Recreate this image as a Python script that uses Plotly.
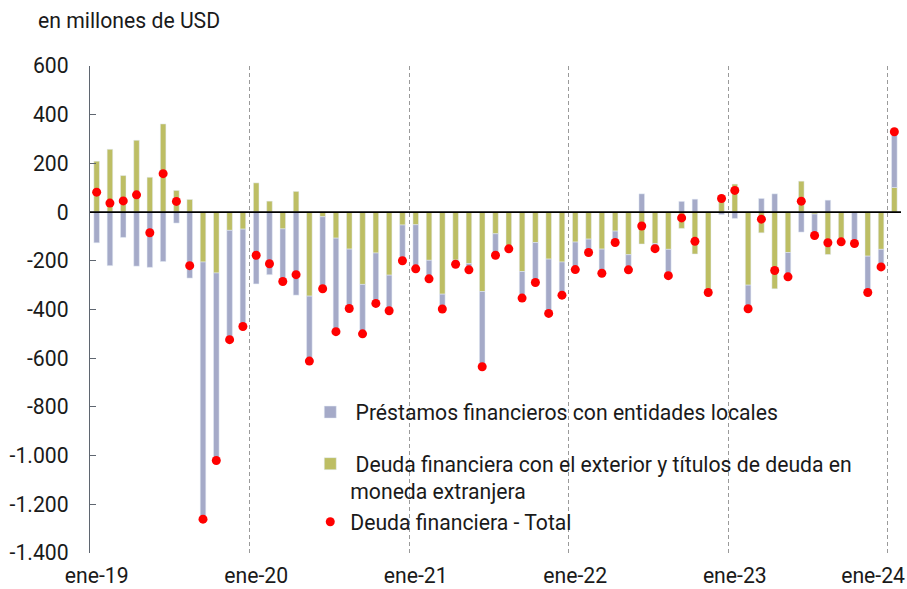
import plotly.graph_objects as go

# ---------------- data (millones de USD), monthly ene-19 .. ene-24 ----------------
month_abbr = ["ene", "feb", "mar", "abr", "may", "jun",
              "jul", "ago", "sep", "oct", "nov", "dic"]
years = ["19", "20", "21", "22", "23", "24"]
months = [f"{m}-{y}" for y in years for m in month_abbr][:61]

prestamos_locales = [
    -126, -220, -104, -222, -227, -203, -45, -271, -1056, -770, -449, -400,
    -295, -257, -216, -341, -267, -296, -384, -244, -203, -207, -146, -147,
    -181, -76, -61, -16, -26, -309, -88, -11, -109, -164, -223, -136,
    -113, -55, -99, -47, -62, 75, -21, -108, 44, 53, 0, -10,
    -26, -97, 56, 75, -100, -82, -88, 49, -2, -129, -149, -72,
    229,
]
deuda_exterior = [
    209, 258, 150, 295, 143, 362, 89, 52, -205, -250, -75, -70,
    120, 45, -69, 85, -345, -19, -107, -152, -297, -168, -259, -53,
    -52, -198, -337, -197, -211, -326, -89, -140, -244, -125, -193, -205,
    -123, -111, -152, -78, -175, -131, -129, -153, -67, -172, -330, 66,
    115, -300, -85, -315, -166, 127, -8, -174, -120, 0, -181, -153,
    101,
]
deuda_total = [
    82, 37, 46, 71, -85, 158, 44, -220, -1261, -1020, -524, -470,
    -177, -212, -285, -257, -612, -315, -491, -396, -500, -375, -405, -200,
    -233, -274, -398, -214, -237, -635, -177, -151, -353, -289, -416, -341,
    -236, -166, -251, -125, -237, -57, -150, -261, -24, -120, -330, 56,
    89, -397, -29, -240, -266, 45, -96, -126, -122, -129, -330, -225,
    330,
]

y_tick_values = [600, 400, 200, 0, -200, -400, -600, -800, -1000, -1200, -1400]
y_tick_labels = ["600", "400", "200", "0", "-200", "-400", "-600", "-800",
                 "-1.000", "-1.200", "-1.400"]
x_tick_labels = ["ene-19", "ene-20", "ene-21", "ene-22", "ene-23", "ene-24"]

name_prest = "\u00a0Préstamos financieros con entidades locales"
name_deuda = ("\u00a0Deuda financiera con el exterior y títulos de deuda en<br>"
              "moneda extranjera")
name_total = "Deuda financiera - Total"

# ---------------- figure ----------------
x = list(range(len(months)))
FONT = "Roboto"
FS = 21.2
TXT = "#1a1a1a"
BLUE = "#a5aac8"
OLIVE = "#bdbe64"

fig = go.Figure()
fig.add_trace(go.Bar(
    x=x, y=deuda_exterior, name=name_deuda, marker_color=OLIVE,
    width=0.42, legendgroup="b", legendrank=2, customdata=months,
))
fig.add_trace(go.Bar(
    x=x, y=prestamos_locales, name=name_prest, marker_color=BLUE,
    width=0.42, legendgroup="a", legendrank=1, customdata=months,
))
fig.add_trace(go.Scatter(
    x=x, y=deuda_total, name=name_total, mode="markers",
    marker=dict(color="#ff0000", size=9), legendgroup="b", legendrank=3,
    customdata=months,
))

# tick positions: January of each year; the last label is nudged left to fit
jan_idx = [i for i, m in enumerate(months) if m.startswith("ene")]
x_tick_pos = [float(i) for i in jan_idx]
x_tick_pos[-1] = x_tick_pos[-1] - 1.6
year_bounds = [i - 0.5 for i in jan_idx[1:]]

fig.update_layout(
    width=907, height=589,
    margin=dict(l=90, r=6, t=66, b=36, autoexpand=False),
    paper_bgcolor="white", plot_bgcolor="white",
    barmode="relative",
    font=dict(family=FONT, size=FS, color=TXT),
    showlegend=True,
    legend=dict(
        x=0.2716, y=0.331, xanchor="left", yanchor="top",
        traceorder="grouped", tracegroupgap=21, valign="top",
        bgcolor="rgba(0,0,0,0)", font=dict(family=FONT, size=FS, color=TXT),
        itemwidth=30,
    ),
    xaxis=dict(
        range=[-0.5, len(months) - 0.5], automargin=False,
        tickmode="array", tickvals=x_tick_pos, ticktext=x_tick_labels,
        showgrid=False, showline=False, zeroline=False, ticks="",
        ticklabelstandoff=8,
        minor=dict(tickmode="array", tickvals=year_bounds, showgrid=True,
                   gridcolor="#9a9a9a", gridwidth=1, griddash="4px,3px", ticks=""),
    ),
    yaxis=dict(
        range=[-1400, 600], automargin=False,
        tickmode="array", tickvals=y_tick_values, ticktext=y_tick_labels,
        showgrid=False, zeroline=False,
        showline=True, linecolor="#5f6670", linewidth=1.3,
        ticks="inside", ticklen=6, tickcolor="#5f6670", tickwidth=1.3,
        ticklabelstandoff=16,
    ),
    annotations=[dict(
        text="en millones de USD", xref="paper", yref="paper",
        x=-0.066, y=1.094, xanchor="left", yanchor="middle", showarrow=False,
        font=dict(family=FONT, size=FS, color=TXT),
    )],
    shapes=[dict(
        type="line", xref="paper", yref="y", x0=0, x1=1, y0=0, y1=0,
        line=dict(color="black", width=1.6), layer="above",
    )],
)

fig.write_html("out.html", config={"displayModeBar": False})

# remove the browser's default page margin so the figure sits at (0, 0)
with open("out.html", encoding="utf-8") as f:
    html = f.read()
html = html.replace("<body>", '<body style="margin:0;padding:0;">', 1)
with open("out.html", "w", encoding="utf-8") as f:
    f.write(html)
